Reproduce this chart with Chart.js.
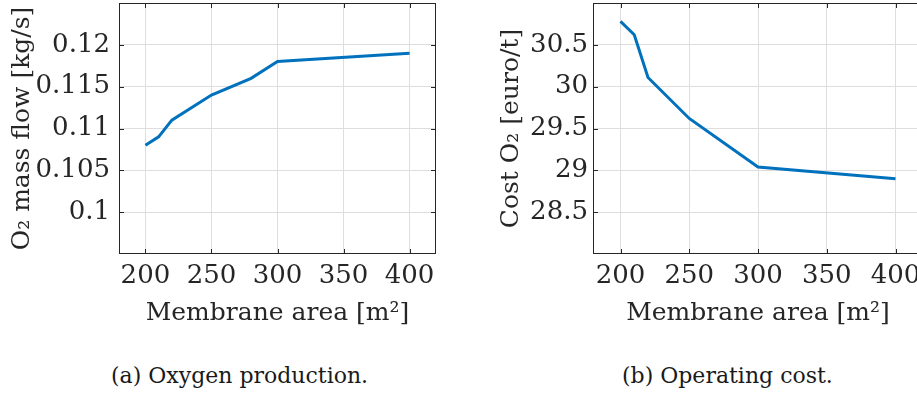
<!DOCTYPE html>
<html>
<head>
<meta charset="utf-8">
<script src="https://cdn.jsdelivr.net/npm/chart.js@4/dist/chart.umd.min.js"></script>
<style>
  body { margin: 0; width: 917px; height: 393px; overflow: hidden; background: #fff; position: relative; }
  .plot { position: absolute; top: 0; height: 330px; }
  .cap { position: absolute; top: 363px; font-family: "DejaVu Serif"; font-size: 22px; color: #1a1a1a; white-space: nowrap; }
</style>
</head>
<body>
<div class="plot" style="left:0;width:440px"><canvas id="ca"></canvas></div>
<div class="plot" style="left:460px;width:470px"><canvas id="cb"></canvas></div>
<div class="cap" style="left:111px">(a) Oxygen production.</div>
<div class="cap" style="left:622px">(b) Operating cost.</div>
<script>
// data
const areaFlow = [200, 210, 220, 250, 280, 300, 400];
const o2Flow = [0.108, 0.109, 0.111, 0.114, 0.116, 0.118, 0.119];
const areaCost = [200, 210, 220, 250, 300, 400];
const o2Cost = [30.78, 30.62, 30.11, 29.62, 29.04, 28.9];

const areaTicks = [200, 250, 300, 350, 400];
const flowTicks = [0.1, 0.105, 0.11, 0.115, 0.12];
const costTicks = [28.5, 29, 29.5, 30, 30.5];

const ink = "#262626";
const serif = "DejaVu Serif";

// box round the axes + inward tick marks (matlab style)
const frame = {
  id: "frame",
  afterDraw(chart) {
    const { ctx, chartArea: a, scales } = chart;
    ctx.save();
    ctx.strokeStyle = ink;
    ctx.lineWidth = 1;
    ctx.strokeRect(a.left + 0.5, a.top + 0.5, a.right - a.left - 1, a.bottom - a.top - 1);
    ctx.beginPath();
    scales.x.ticks.forEach((t) => {
      const px = Math.round(scales.x.getPixelForValue(t.value)) + 0.5;
      ctx.moveTo(px, a.bottom); ctx.lineTo(px, a.bottom - 5);
      ctx.moveTo(px, a.top); ctx.lineTo(px, a.top + 5);
    });
    scales.y.ticks.forEach((t) => {
      const py = Math.round(scales.y.getPixelForValue(t.value)) + 0.5;
      ctx.moveTo(a.left, py); ctx.lineTo(a.left + 5, py);
      ctx.moveTo(a.right, py); ctx.lineTo(a.right - 5, py);
    });
    ctx.stroke();
    ctx.restore();
  },
};

function makeChart(id, xs, ys, yMin, yMax, yTicks, yTitle, o) {
  const pts = xs.map((x, i) => ({ x: x, y: ys[i] }));
  return new Chart(document.getElementById(id), {
    type: "line",
    data: {
      datasets: [{ data: pts, borderColor: "#0072BD", borderWidth: 3, pointRadius: 0, tension: 0 }],
    },
    options: {
      responsive: true,
      maintainAspectRatio: false,
      animation: false,
      layout: { padding: { top: 3, right: o.right, left: 0, bottom: 0 } },
      plugins: { legend: { display: false }, tooltip: { enabled: false } },
      scales: {
        x: {
          type: "linear",
          min: 180,
          max: 420,
          afterBuildTicks: (s) => { s.ticks = areaTicks.map((v) => ({ value: v })); },
          afterFit: (s) => { s.height = 76; s.paddingLeft = 0; s.paddingRight = 0; },
          grid: { color: "#dedede", drawTicks: false },
          border: { display: false },
          ticks: { color: ink, font: { family: serif, size: 26 }, padding: 7, maxRotation: 0 },
          title: {
            display: true,
            text: "Membrane area [m²]",
            color: ink,
            font: { family: serif, size: 25 },
            padding: { top: 0, bottom: 2 },
          },
        },
        y: {
          type: "linear",
          min: yMin,
          max: yMax,
          afterBuildTicks: (s) => { s.ticks = yTicks.map((v) => ({ value: v })); },
          afterFit: (s) => { s.width = o.yw; s.paddingTop = 0; s.paddingBottom = 0; },
          grid: { color: "#dedede", drawTicks: false },
          border: { display: false },
          ticks: { color: ink, font: { family: serif, size: 26 }, padding: o.tp, callback: (v) => String(v) },
          title: {
            display: true,
            text: yTitle,
            color: ink,
            font: { family: serif, size: 25 },
            padding: { top: o.titlePad, bottom: 0 },
          },
        },
      },
    },
    plugins: [frame],
  });
}

makeChart("ca", areaFlow, o2Flow, 0.095, 0.125, flowTicks, "O₂ mass flow [kg/s]", { right: 4, yw: 119, tp: 9, titlePad: 7 });
makeChart("cb", areaCost, o2Cost, 28, 31, costTicks, "Cost O₂ [euro/t]", { right: 7, yw: 133, tp: 5, titlePad: 36 });
</script>
</body>
</html>
